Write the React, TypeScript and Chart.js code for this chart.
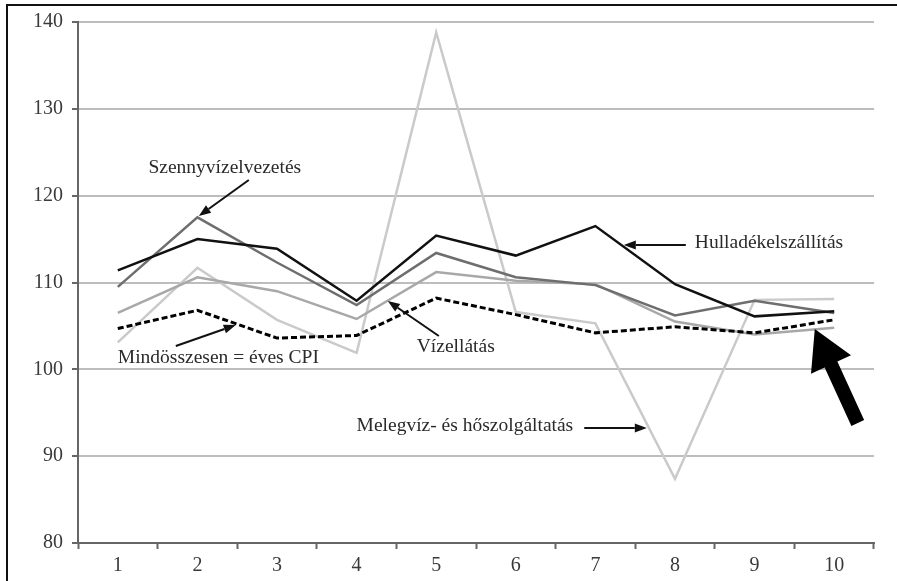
import React, { useEffect, useRef } from "react";
import { Chart, registerables } from "chart.js";

Chart.register(...registerables);

const categories = ["1", "2", "3", "4", "5", "6", "7", "8", "9", "10"];
const hulladek = [111.4, 115.0, 113.9, 107.9, 115.4, 113.1, 116.5, 109.8, 106.1, 106.7];
const szennyviz = [109.5, 117.5, 112.3, 107.4, 113.4, 110.6, 109.7, 106.2, 107.9, 106.5];
const vizellatas = [106.5, 110.6, 109.0, 105.8, 111.2, 110.2, 109.8, 105.5, 104.0, 104.8];
const melegviz = [103.1, 111.7, 105.7, 101.9, 138.8, 106.6, 105.3, 87.4, 108.0, 108.1];
const osszesen = [104.7, 106.8, 103.6, 103.9, 108.2, 106.3, 104.2, 104.9, 104.2, 105.7];
const yMin = 80;
const yMax = 140;
const yStep = 10;

// annotation labels: text, x (category index), y (value), align
const noteTexts = ["Szennyvízelvezetés", "Hulladékelszállítás", "Vízellátás", "Mindösszesen = éves CPI", "Melegvíz- és hőszolgáltatás"];
const noteX = [1.344, 7.249, 3.756, 0.0, 3.0];
const noteY = [123.2, 114.55, 102.57, 101.3, 93.47];
const noteAlign = ["center", "left", "left", "left", "left"];
// arrows: tail (x,y) -> tip (x,y) in data units
const arrowTailX = [1.646, 7.136, 4.033, 0.729, 5.86];
const arrowTailY = [121.8, 114.32, 103.84, 102.69, 93.24];
const arrowTipX = [1.018, 6.357, 3.392, 1.482, 6.646];
const arrowTipY = [117.66, 114.32, 107.87, 105.1, 93.24];
// big arrow
const bigTail = [9.296, 93.82];
const bigTip = [8.756, 104.64];

const FONT = '"Liberation Serif", "DejaVu Serif", serif';

export default function App() {
  const ref = useRef<HTMLCanvasElement | null>(null);
  useEffect(() => {
    const canvas = ref.current;
    if (!canvas) return;

    const notesPlugin = {
      id: "notes",
      beforeDraw(chart: any) {
        const ctx = chart.ctx;
        ctx.save();
        ctx.fillStyle = "#ffffff";
        ctx.fillRect(0, 0, chart.width, chart.height);
        ctx.strokeStyle = "#111";
        ctx.lineWidth = 2;
        ctx.beginPath();
        ctx.moveTo(7, chart.height);
        ctx.lineTo(7, 5);
        ctx.lineTo(chart.width, 5);
        ctx.stroke();
        ctx.restore();
      },
      afterDatasetsDraw(chart: any) {
        const ctx = chart.ctx;
        const xs = chart.scales.x;
        const ys = chart.scales.y;
        ctx.save();
        ctx.font = `19.5px ${FONT}`;
        ctx.fillStyle = "#2a2a2a";
        ctx.textBaseline = "middle";
        noteTexts.forEach((t, i) => {
          ctx.textAlign = noteAlign[i] as CanvasTextAlign;
          ctx.fillText(t, xs.getPixelForValue(noteX[i]), ys.getPixelForValue(noteY[i]));
        });
        ctx.strokeStyle = "#111";
        ctx.fillStyle = "#111";
        ctx.lineWidth = 2;
        for (let i = 0; i < arrowTailX.length; i++) {
          const x0 = xs.getPixelForValue(arrowTailX[i]);
          const y0 = ys.getPixelForValue(arrowTailY[i]);
          const x1 = xs.getPixelForValue(arrowTipX[i]);
          const y1 = ys.getPixelForValue(arrowTipY[i]);
          const a = Math.atan2(y1 - y0, x1 - x0);
          const len = 12;
          const hw = 4.5;
          const bx = x1 - len * Math.cos(a);
          const by = y1 - len * Math.sin(a);
          ctx.beginPath();
          ctx.moveTo(x0, y0);
          ctx.lineTo(bx, by);
          ctx.stroke();
          ctx.beginPath();
          ctx.moveTo(x1, y1);
          ctx.lineTo(bx - hw * Math.sin(a), by + hw * Math.cos(a));
          ctx.lineTo(bx + hw * Math.sin(a), by - hw * Math.cos(a));
          ctx.closePath();
          ctx.fill();
        }
        // big arrow
        {
          const x0 = xs.getPixelForValue(bigTail[0]);
          const y0 = ys.getPixelForValue(bigTail[1]);
          const x1 = xs.getPixelForValue(bigTip[0]);
          const y1 = ys.getPixelForValue(bigTip[1]);
          const a = Math.atan2(y1 - y0, x1 - x0);
          const headLen = 39;
          const headHw = 22;
          const sw = 7;
          const c = Math.cos(a);
          const s = Math.sin(a);
          const bx = x1 - headLen * c;
          const by = y1 - headLen * s;
          ctx.fillStyle = "#000";
          ctx.beginPath();
          ctx.moveTo(x0 - sw * s, y0 + sw * c);
          ctx.lineTo(bx - sw * s, by + sw * c);
          ctx.lineTo(bx - headHw * s, by + headHw * c);
          ctx.lineTo(x1, y1);
          ctx.lineTo(bx + headHw * s, by - headHw * c);
          ctx.lineTo(bx + sw * s, by - sw * c);
          ctx.lineTo(x0 + sw * s, y0 - sw * c);
          ctx.closePath();
          ctx.fill();
        }
        ctx.restore();
      },
    };

    const mk = (label: string, data: number[], color: string, width: number, dash: number[] = []) => ({
      label,
      data,
      borderColor: color,
      backgroundColor: color,
      borderWidth: width,
      borderDash: dash,
      pointRadius: 0,
      tension: 0,
      fill: false,
    });

    const chart = new Chart(canvas, {
      type: "line",
      data: {
        labels: categories,
        datasets: [
          mk("Mindösszesen = éves CPI", osszesen, "#000000", 3, [6, 3]),
          mk("Hulladékelszállítás", hulladek, "#111111", 2.5),
          mk("Szennyvízelvezetés", szennyviz, "#6e6e6e", 2.5),
          mk("Vízellátás", vizellatas, "#a8a8a8", 2.5),
          mk("Melegvíz- és hőszolgáltatás", melegviz, "#cacaca", 2.5),
        ],
      },
      options: {
        animation: false,
        responsive: true,
        maintainAspectRatio: false,
        layout: { padding: { left: 0, top: 22, right: 23, bottom: 0 } },
        plugins: { legend: { display: false }, tooltip: { enabled: false } },
        scales: {
          x: {
            offset: true,
            grid: {
              offset: true,
              drawOnChartArea: false,
              tickLength: 6,
              tickColor: "#666",
              tickWidth: 2,
            },
            border: { color: "#666", width: 2 },
            ticks: { color: "#3a3a3a", font: { family: FONT, size: 20 }, padding: 5 },
            afterFit: (s: any) => {
              s.height = 38;
            },
          },
          y: {
            min: yMin,
            max: yMax,
            grid: { color: "#bdbdbd", lineWidth: 2, tickLength: 6, tickColor: "#666", tickWidth: 2 },
            border: { color: "#666", width: 2 },
            ticks: { stepSize: yStep, color: "#3a3a3a", font: { family: FONT, size: 20 }, padding: 9 },
            afterFit: (s: any) => {
              s.width = 78;
            },
          },
        },
      },
      plugins: [notesPlugin],
    });
    return () => chart.destroy();
  }, []);

  return (
    <div style={{ position: "fixed", left: 0, top: 0, width: 897, height: 581, background: "#fff" }}>
      <canvas ref={ref} />
    </div>
  );
}
